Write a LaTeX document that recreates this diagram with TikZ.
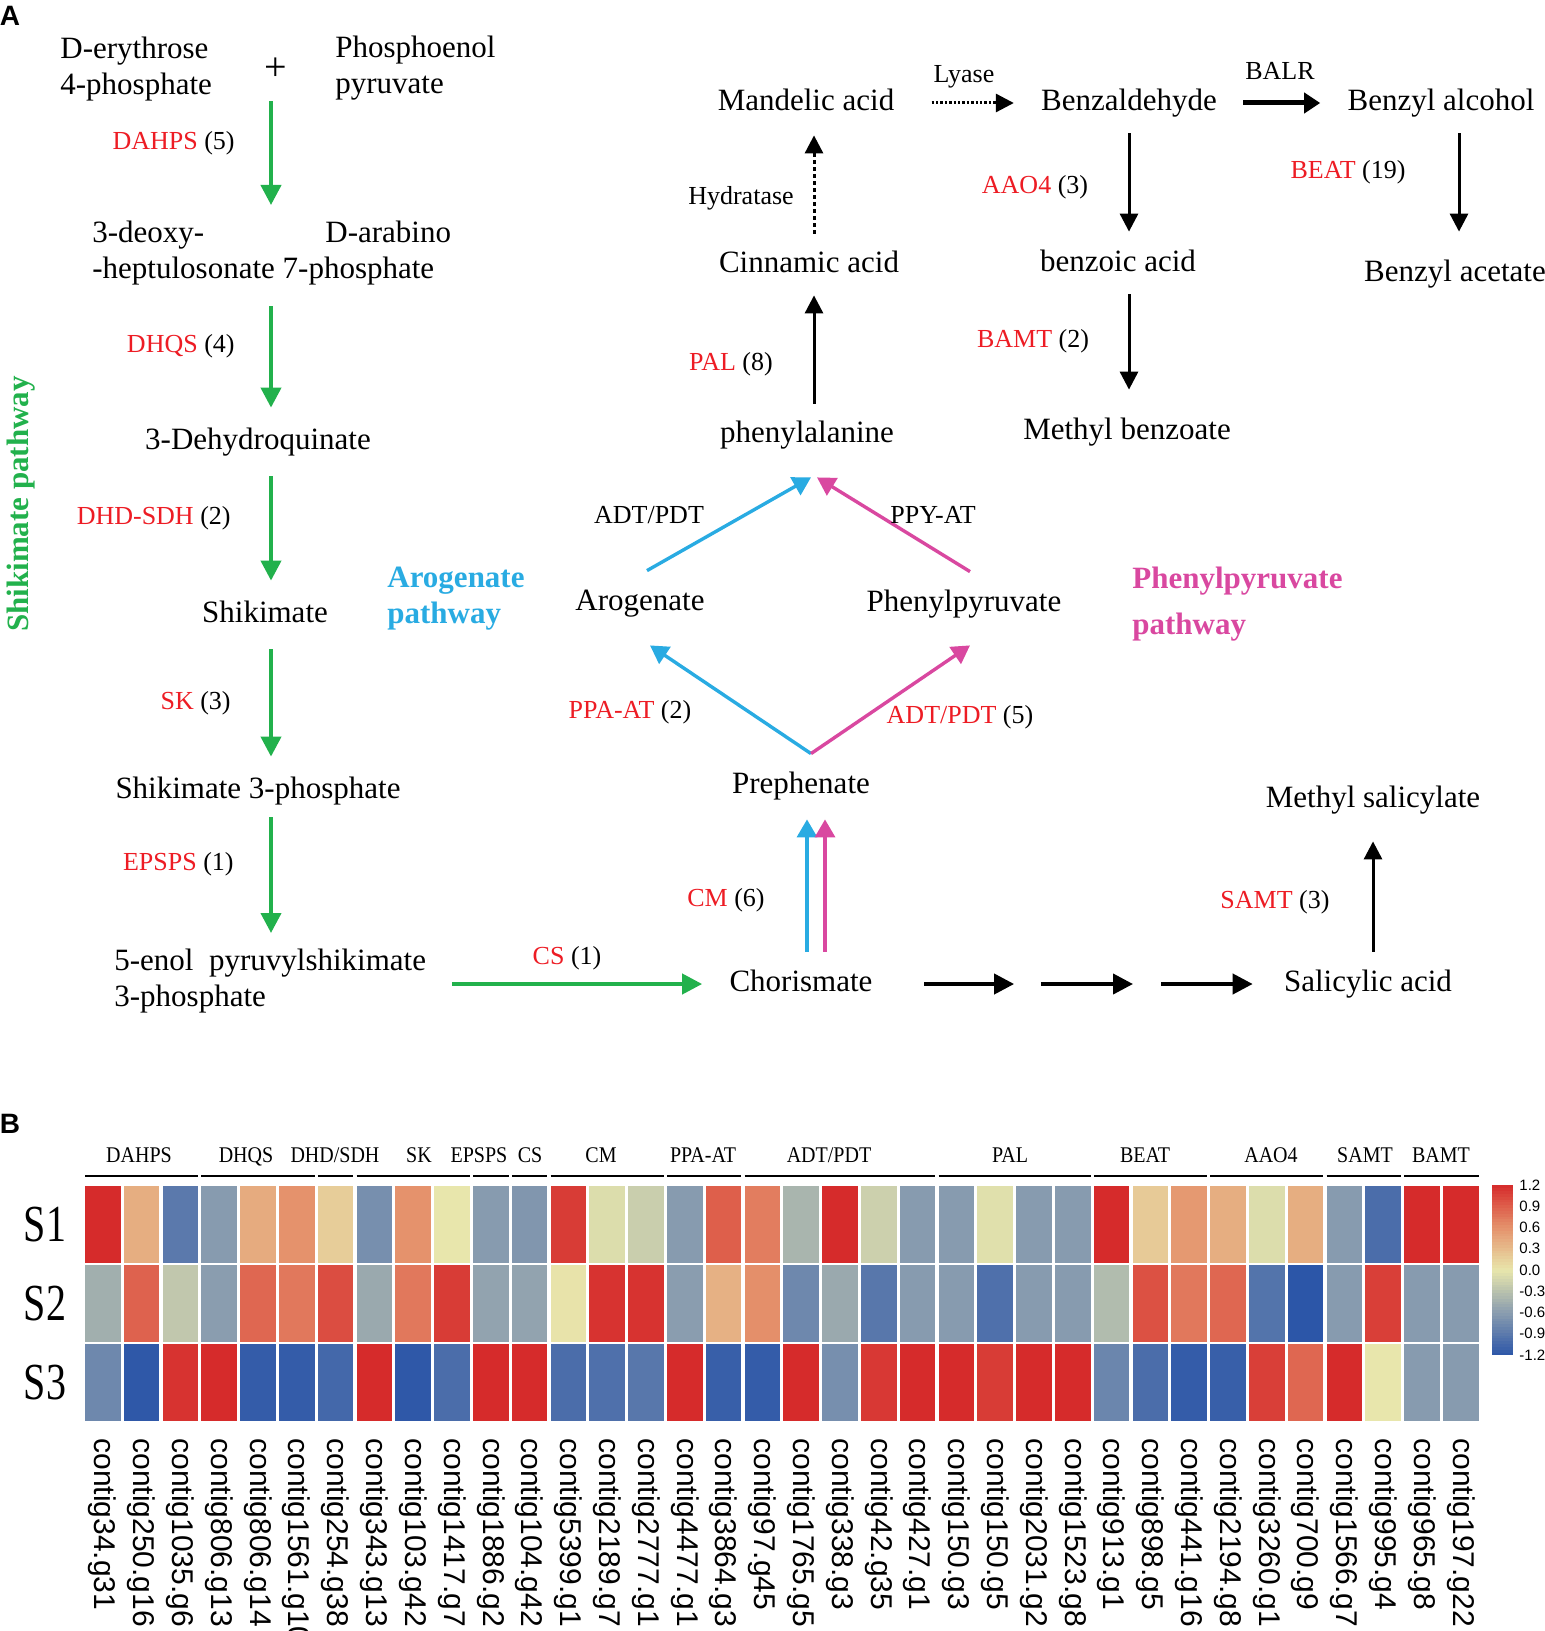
\documentclass[tikz,border=0pt]{standalone}
\usepackage{fontspec}
\setmainfont{Liberation Serif}
\setsansfont{Liberation Sans}
\usepackage{graphicx}
\usetikzlibrary{arrows.meta}

\definecolor{shgreen}{RGB}{34,177,76}
\definecolor{arblue}{RGB}{41,171,226}
\definecolor{phpink}{RGB}{217,72,160}
\definecolor{enzred}{RGB}{237,28,36}
\definecolor{hmB}{RGB}{44,86,168}
\definecolor{hmG}{RGB}{138,157,175}
\definecolor{hmY}{RGB}{232,230,172}
\definecolor{hmO}{RGB}{229,146,108}
\definecolor{hmR}{RGB}{214,43,43}

\newcommand{\chemfont}{\fontsize{15.5}{18}\selectfont}
\newcommand{\enzfont}{\fontsize{13}{15}\selectfont}
\newcommand{\enz}[2]{\textcolor{enzred}{#1} (#2)}
% colour of one heat cell, value -1.2 .. 1.2
\newcommand{\heatcol}[1]{%
  \pgfmathtruncatemacro{\hseg}{(#1 < -0.6) ? 0 : ((#1 < 0) ? 1 : ((#1 < 0.6) ? 2 : 3))}%
  \pgfmathtruncatemacro{\hpct}{round(100*(#1+1.2-0.6*\hseg)/0.6)}%
  \ifcase\hseg \colorlet{hc}{hmG!\hpct!hmB}%
  \or \colorlet{hc}{hmY!\hpct!hmG}%
  \or \colorlet{hc}{hmO!\hpct!hmY}%
  \else \colorlet{hc}{hmR!\hpct!hmO}%
  \fi}

\tikzset{
  chem/.style={font=\chemfont, inner sep=0pt, yshift=-1.5pt, execute at begin node=\strut},
  enzlab/.style={font=\enzfont, inner sep=0pt, yshift=-1pt},
  panel/.style={font=\sffamily\bfseries\fontsize{14}{14}\selectfont, inner sep=0pt},
  gap/.style={shorten <=8pt, shorten >=8pt},
  garr/.style={shgreen, line width=2pt, -{Triangle[width=10pt,length=10pt]}},
  karr/.style={black, line width=1.5pt, -{Triangle[width=9pt,length=9pt]}},
  barr/.style={arblue, line width=1.7pt, -{Triangle[width=10pt,length=9pt]}},
  parr/.style={phpink, line width=1.7pt, -{Triangle[width=10pt,length=9pt]}},
  grplab/.style={font=\fontsize{10}{10}\selectfont, inner sep=0pt, anchor=base},
  contig/.style={font=\sffamily\fontsize{15}{15}\selectfont, rotate=-90, anchor=west, inner sep=0pt},
  barlab/.style={font=\sffamily\fontsize{7.5}{8}\selectfont, anchor=west, inner sep=0pt}
}

\begin{document}
\begin{tikzpicture}[x=0.5pt,y=-0.5pt]
\useasboundingbox (0,0) rectangle (1545,1631);

\node[panel] (pa) at (10,16) {A};
\node[panel] (pb) at (10,1124) {B};

% shikimate branch
\node[chem, text=shgreen, font=\chemfont\bfseries, rotate=90, yshift=0pt] (shpath) at (21,501) {Shikimate pathway};
\node[chem, align=left, anchor=north west] (e4p) at (60,34) {D-erythrose\\4-phosphate};
\node[chem, font=\fontsize{20}{18}\selectfont] (plus) at (276,70) {+};
\node[chem, align=left, anchor=north west] (pep) at (335,33) {Phosphoenol\\pyruvate};
\node[chem, align=left, anchor=north west] (dahp) at (92,218) {\makebox[116.5pt][l]{3-deoxy-}D-arabino\\-heptulosonate 7-phosphate};
\node[chem] (dhq) at (258,439) {3-Dehydroquinate};
\node[chem] (shik) at (265,612) {Shikimate};
\node[chem] (s3p) at (258,788) {Shikimate 3-phosphate};
\node[chem, align=left, anchor=north west] (epsp) at (114,946) {5-enol\ \ pyruvylshikimate\\3-phosphate};
\coordinate (gx) at (271,0);

\draw[garr, gap, shorten <=5pt] (plus.south -| gx) -- (dahp.north -| gx);
\draw[garr, gap] (dahp.south -| gx) -- (dhq.north -| gx);
\draw[garr, gap] (dhq.south -| gx) -- (shik.north -| gx);
\draw[garr, gap] (shik.south -| gx) -- (s3p.north -| gx);
\draw[garr, gap, shorten <=4pt] (s3p.south -| gx) -- (epsp.north -| gx);

\node[enzlab, anchor=east] (edahps) at (235,141) {\enz{DAHPS}{5}};
\node[enzlab, anchor=east] (edhqs) at (235,344) {\enz{DHQS}{4}};
\node[enzlab, anchor=east] (edhd) at (231,516) {\enz{DHD-SDH}{2}};
\node[enzlab, anchor=east] (esk) at (231,701) {\enz{SK}{3}};
\node[enzlab, anchor=east] (eepsps) at (234,862) {\enz{EPSPS}{1}};

% chorismate row
\node[chem] (chor) at (801,981) {Chorismate};
\node[chem] (sal) at (1368,981) {Salicylic acid};
\node[chem] (msal) at (1373,797) {Methyl salicylate};
\coordinate (m1) at (1027.5,984);
\coordinate (m2) at (1147,984);
\draw[garr, shorten <=13pt, shorten >=13.5pt] (epsp.east |- chor.west) -- (chor.west);
\node[enzlab] (ecs) at (567,956) {\enz{CS}{1}};
\draw[karr, line width=2pt, -{Triangle[width=10pt,length=10pt]}, shorten <=25.7pt, shorten >=6.7pt] (chor.east) -- (m1);
\draw[karr, line width=2pt, -{Triangle[width=10pt,length=10pt]}, shorten <=6.7pt, shorten >=7pt] (m1) -- (m2);
\draw[karr, line width=2pt, -{Triangle[width=10pt,length=10pt]}, shorten <=7pt, shorten >=15.5pt] (m2) -- (sal.west);
\draw[karr, shorten <=7pt, shorten >=11.5pt] (sal.north -| msal.south) -- (msal.south);
\node[enzlab] (esamt) at (1275,900) {\enz{SAMT}{3}};

% arogenate / phenylpyruvate
\node[chem] (prep) at (801,783) {Prephenate};
\node[chem] (arog) at (640,600) {Arogenate};
\node[chem] (phpy) at (964,601) {Phenylpyruvate};
\node[chem] (phe) at (807,432) {phenylalanine};
\node[chem, align=left, anchor=north west, text=arblue, font=\chemfont\bfseries] (arogpath) at (387,564) {Arogenate\\pathway};
\node[chem, align=left, anchor=north west, text=phpink, font=\chemfont\bfseries] (phpypath) at (1132,564) {Phenylpyruvate\\[5pt]pathway};

\draw[barr, shorten <=7pt, shorten >=7.5pt] ([xshift=3pt]chor.north) -- ([xshift=3pt]prep.south);
\draw[parr, shorten <=7pt, shorten >=7.5pt] ([xshift=12pt]chor.north) -- ([xshift=12pt]prep.south);
\node[enzlab] (ecm) at (726,898) {\enz{CM}{6}};

\coordinate (apex) at ([xshift=5pt,yshift=7pt]prep.north);
\draw[barr] (apex) -- ([xshift=5pt,yshift=-12pt]arog.south);
\draw[parr] (apex) -- ([xshift=3pt,yshift=-11.5pt]phpy.south);
\node[enzlab] (eppa) at (630,710) {\enz{PPA-AT}{2}};
\node[enzlab] (eadt) at (960,715) {\enz{ADT/PDT}{5}};

\draw[barr] ([xshift=3.5pt,yshift=7pt]arog.north) -- ([xshift=2pt,yshift=-12pt]phe.south);
\draw[parr] ([xshift=3pt,yshift=7pt]phpy.north) -- ([xshift=5pt,yshift=-12pt]phe.south);
\node[enzlab] (adtpdt) at (649,513) {ADT/PDT};
\node[enzlab] (ppyat) at (933,513) {PPY-AT};

% benzenoids
\node[chem] (cinn) at (809,262) {Cinnamic acid};
\node[chem] (mand) at (806,100) {Mandelic acid};
\node[chem] (benzald) at (1129,100) {Benzaldehyde};
\node[chem] (balc) at (1441,100) {Benzyl alcohol};
\node[chem] (benzoic) at (1118,261) {benzoic acid};
\node[chem] (mbenz) at (1127,429) {Methyl benzoate};
\node[chem] (bacet) at (1455,271) {Benzyl acetate};

\draw[karr, shorten <=6.5pt, shorten >=6pt] ([xshift=3.5pt]phe.north) -- ([xshift=2.5pt]cinn.south);
\node[enzlab] (epal) at (731,362) {\enz{PAL}{8}};
\draw[karr, dash pattern=on 2pt off 1.5pt, shorten <=6.5pt, shorten >=7pt] ([xshift=2.5pt]cinn.north) -- ([xshift=4pt]mand.south);
\node[enzlab] (hydr) at (741,196) {Hydratase};
\draw[karr, dash pattern=on 1.2pt off 1pt, shorten <=18.5pt, shorten >=13.5pt] (mand.east) -- (benzald.west);
\node[enzlab] (lyase) at (964,75) {Lyase};
\draw[karr, line width=2.5pt, -{Triangle[width=10pt,length=8pt]}, shorten <=13pt, shorten >=13.5pt] (benzald.east) -- (balc.west);
\node[enzlab] (balr) at (1280,69) {BALR};
\draw[karr, shorten <=6pt, shorten >=7pt] (benzald.south) -- (benzald.south |- benzoic.north);
\node[enzlab] (eaao) at (1035,185) {\enz{AAO4}{3}};
\draw[karr, shorten <=6pt, shorten >=12pt] (benzoic.south -| benzald) -- (mbenz.north -| benzald);
\node[enzlab] (ebamt) at (1033,339) {\enz{BAMT}{2}};
\draw[karr, shorten <=6pt, shorten >=12pt] ([xshift=9pt]balc.south) -- ([xshift=9pt]balc.south |- bacet.north);
\node[enzlab] (ebeat) at (1348,170) {\enz{BEAT}{19}};

% heat map
\foreach \r/\vals in {
  1/{1.2,0.4,-0.9,-0.62,0.42,0.6,0.18,-0.72,0.6,0.0,-0.62,-0.66,1.1,-0.08,-0.2,-0.62,0.9,0.72,-0.4,1.2,-0.18,-0.62,-0.62,-0.05,-0.62,-0.62,1.2,0.2,0.55,0.4,-0.08,0.4,-0.62,-1.0,1.2,1.2},
  2/{-0.45,0.88,-0.25,-0.6,0.85,0.75,1.0,-0.5,0.75,1.1,-0.55,-0.55,0.02,1.15,1.15,-0.6,0.38,0.62,-0.78,-0.5,-0.92,-0.62,-0.62,-0.98,-0.62,-0.62,-0.35,0.98,0.75,0.85,-0.95,-1.2,-0.62,1.08,-0.62,-0.62},
  3/{-0.78,-1.18,1.15,1.2,-1.15,-1.15,-1.05,1.2,-1.18,-1.0,1.2,1.2,-1.0,-0.98,-0.92,1.2,-1.12,-1.15,1.2,-0.72,1.12,1.2,1.2,1.1,1.2,1.2,-0.8,-1.0,-1.15,-1.12,1.08,0.85,1.2,0.0,-0.62,-0.62}}{
  \foreach \v [count=\c] in \vals {
    \heatcol{\v}
    \fill[hc] ({85+(\c-1)*38.8},{1186+(\r-1)*79}) rectangle ++(35.5,77);
  }
  \node[font=\fontsize{20}{20}\selectfont, inner sep=0pt] (s\r) at (45,{1225+(\r-1)*79}) {\scalebox{1}[1.3]{S\r}};
}

\foreach \gname/\ga/\gb/\gx in {DAHPS/1/3/139, DHQS/4/6/246, DHD\slash SDH/7/7/335, SK/8/10/419, EPSPS/11/11/479, CS/12/12/530, CM/13/15/601, PPA-AT/16/17/703, ADT\slash PDT/18/22/829, PAL/23/26/1010, BEAT/27/29/1145, AAO4/30/32/1271, SAMT/33/34/1365, BAMT/35/36/1441}{
  \draw[line width=0.8pt] ({85+(\ga-1)*38.8},1176) -- ({85+(\gb-1)*38.8+35.5},1176);
  \node[grplab] (grp\ga) at (\gx,1162) {\scalebox{1}[1.12]{\gname}};
}

\foreach \cname [count=\c] in {contig34.g31, contig250.g16, contig1035.g6, contig806.g13, contig806.g14, contig1561.g10, contig254.g38, contig343.g13, contig103.g42, contig1417.g7, contig1886.g2, contig104.g42, contig5399.g1, contig2189.g7, contig2777.g1, contig4477.g1, contig3864.g3, contig97.g45, contig1765.g5, contig338.g3, contig42.g35, contig427.g1, contig150.g3, contig150.g5, contig2031.g2, contig1523.g8, contig913.g1, contig898.g5, contig441.g16, contig2194.g8, contig3260.g1, contig700.g9, contig1566.g7, contig995.g4, contig965.g8, contig197.g22}{
  \node[contig] (ct\c) at ({85+(\c-1)*38.8+17.75},1438) {\cname};
}

% colour key
\foreach \k in {0,...,59}{
  \pgfmathsetmacro{\kv}{-1.2+(\k+0.5)*0.04}
  \heatcol{\kv}
  \fill[hc] (1492,{1355-\k*170/60+0.4}) rectangle (1513,{1355-(\k+1)*170/60-0.4});
}
\foreach \lab [count=\i] in {1.2,0.9,0.6,0.3,0.0,-0.3,-0.6,-0.9,-1.2}{
  \node[barlab] (key\i) at (1519,{1185+(\i-1)*21.25}) {\lab};
}
\end{tikzpicture}
\end{document}
